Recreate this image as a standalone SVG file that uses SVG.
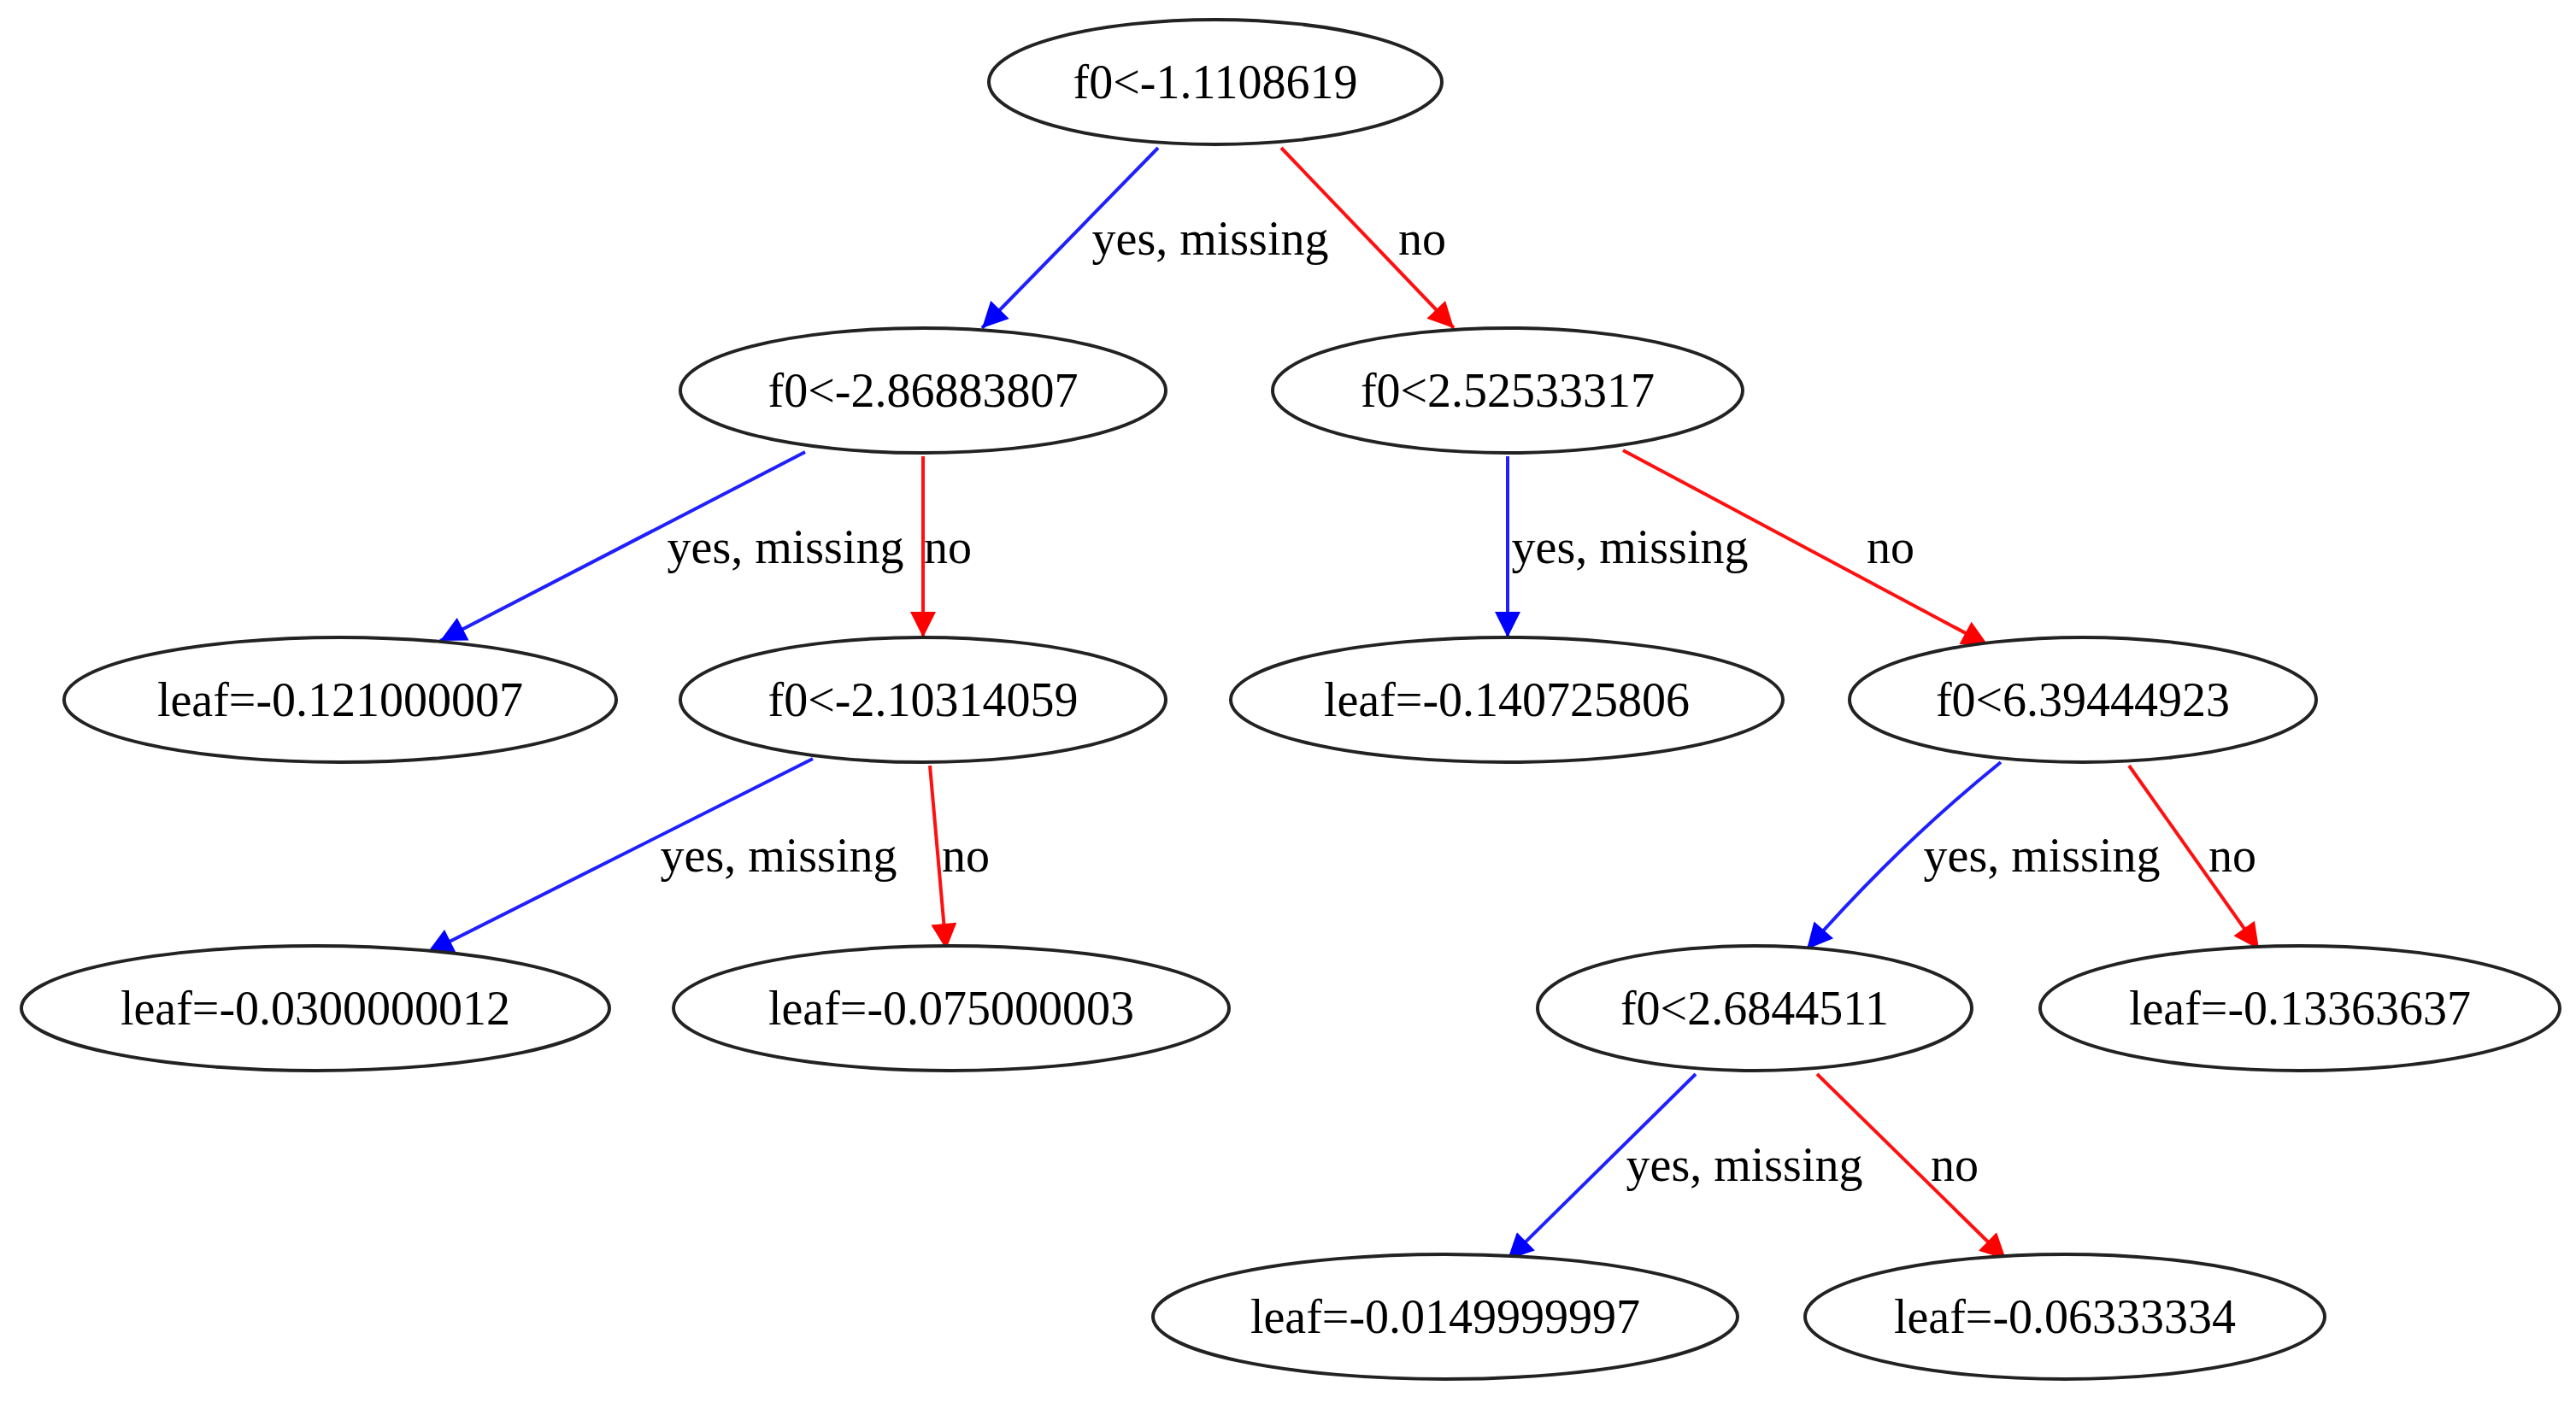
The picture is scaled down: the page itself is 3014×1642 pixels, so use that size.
<svg xmlns="http://www.w3.org/2000/svg" width="3014" height="1642" viewBox="0 0 3014 1642">
<style>
.n ellipse{fill:#fff;stroke:#222;stroke-width:4}
text{font-family:"Liberation Serif","Times New Roman",serif;font-size:56px;fill:#000;text-anchor:middle;dominant-baseline:central}
.y{stroke:#2020ff;stroke-width:4;fill:none;marker-end:url(#ab)}
.r{stroke:#ff1010;stroke-width:4;fill:none;marker-end:url(#ar)}
</style>
<defs>
<marker id="ab" viewBox="0 0 10 10" refX="10" refY="5" markerWidth="38" markerHeight="30" orient="auto" markerUnits="userSpaceOnUse"><path d="M0,0L10,5L0,10z" fill="#0000ff"/></marker>
<marker id="ar" viewBox="0 0 10 10" refX="10" refY="5" markerWidth="38" markerHeight="30" orient="auto" markerUnits="userSpaceOnUse"><path d="M0,0L10,5L0,10z" fill="#ff0000"/></marker>
</defs>
<rect width="3014" height="1642" fill="#fff"/>
<g id="edges">
<path class="y" d="M1355,173L1149,384"/><text x="1416" y="279">yes, missing</text>
<path class="r" d="M1499,173L1701,384"/><text x="1664" y="279">no</text>
<path class="y" d="M942,529L515,750"/><text x="919" y="640">yes, missing</text>
<path class="r" d="M1080,534L1080,746"/><text x="1109" y="640">no</text>
<path class="y" d="M1764,534L1764,746"/><text x="1907" y="640">yes, missing</text>
<path class="r" d="M1899,527L2326,755"/><text x="2212" y="640">no</text>
<path class="y" d="M951,888L500,1115"/><text x="911" y="1001">yes, missing</text>
<path class="r" d="M1088,896L1107,1111"/><text x="1130" y="1001">no</text>
<path class="y" d="M2341,892Q2220,990 2114,1111"/><text x="2389" y="1001">yes, missing</text>
<path class="r" d="M2491,896L2643,1111"/><text x="2612" y="1001">no</text>
<path class="y" d="M1984,1257L1764,1474"/><text x="2041" y="1363">yes, missing</text>
<path class="r" d="M2126,1257L2347,1474"/><text x="2287" y="1363">no</text>
</g>
<g id="n0" class="n"><ellipse cx="1422" cy="96" rx="265" ry="73"/><text x="1422" y="96">f0&lt;-1.1108619</text></g>
<g id="n1" class="n"><ellipse cx="1080" cy="457" rx="284" ry="73"/><text x="1080" y="457">f0&lt;-2.86883807</text></g>
<g id="n2" class="n"><ellipse cx="1764" cy="457" rx="275" ry="73"/><text x="1764" y="457">f0&lt;2.52533317</text></g>
<g id="n3" class="n"><ellipse cx="398" cy="819" rx="323" ry="73"/><text x="398" y="819">leaf=-0.121000007</text></g>
<g id="n4" class="n"><ellipse cx="1080" cy="819" rx="284" ry="73"/><text x="1080" y="819">f0&lt;-2.10314059</text></g>
<g id="n5" class="n"><ellipse cx="1763" cy="819" rx="323" ry="73"/><text x="1763" y="819">leaf=-0.140725806</text></g>
<g id="n6" class="n"><ellipse cx="2437" cy="819" rx="273" ry="73"/><text x="2437" y="819">f0&lt;6.39444923</text></g>
<g id="n7" class="n"><ellipse cx="369" cy="1180" rx="344" ry="73"/><text x="369" y="1180">leaf=-0.0300000012</text></g>
<g id="n8" class="n"><ellipse cx="1113" cy="1180" rx="325" ry="73"/><text x="1113" y="1180">leaf=-0.075000003</text></g>
<g id="n9" class="n"><ellipse cx="2053" cy="1180" rx="254" ry="73"/><text x="2053" y="1180">f0&lt;2.6844511</text></g>
<g id="n10" class="n"><ellipse cx="2691" cy="1180" rx="304" ry="73"/><text x="2691" y="1180">leaf=-0.13363637</text></g>
<g id="n11" class="n"><ellipse cx="1691" cy="1541" rx="342" ry="73"/><text x="1691" y="1541">leaf=-0.0149999997</text></g>
<g id="n12" class="n"><ellipse cx="2416" cy="1541" rx="304" ry="73"/><text x="2416" y="1541">leaf=-0.06333334</text></g>
</svg>
